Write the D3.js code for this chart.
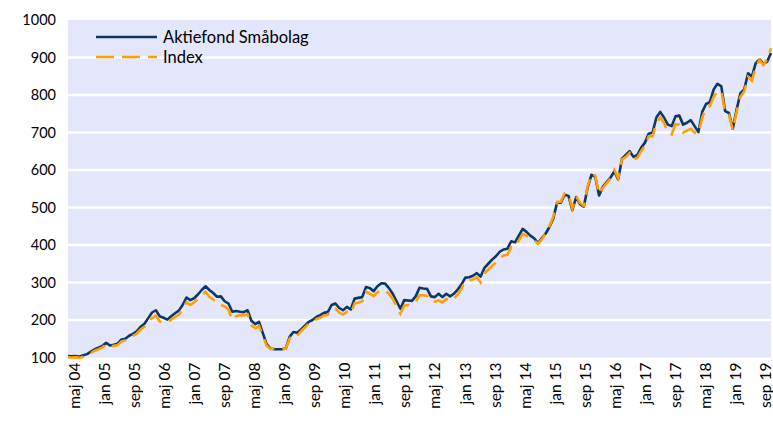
<!DOCTYPE html>
<html>
<head>
<meta charset="utf-8">
<script src="https://cdn.jsdelivr.net/npm/d3@7"></script>
<style>
  body { margin: 0; background: #fff; }
  text { font-family: Lato, "Open Sans", sans-serif; fill: #000; }
</style>
</head>
<body>
<div id="chart"></div>
<script>
// monthly values, maj 04 .. sep 19
var startYear = 2004, startMonth = 4; // 0-based month index (maj)
var monthNames = ["jan","feb","mar","apr","maj","jun","jul","aug","sep","okt","nov","dec"];

var fund = [
  104,103,104,102,106,109,116,122,126,131,139,132,134,137,148,150,158,163,170,182,
  190,205,220,226,210,206,201,210,218,225,240,260,253,258,268,280,290,280,272,262,
  263,250,244,222,224,222,221,226,198,189,195,165,135,124,122,122,122,124,155,168,
  166,175,185,195,200,208,213,219,221,240,244,232,226,235,228,257,259,261,288,285,
  277,290,298,297,285,270,250,230,253,252,251,263,286,284,283,263,261,270,261,270,
  263,270,281,295,313,314,318,325,316,339,350,361,370,382,388,390,410,407,425,443,
  435,425,418,405,418,430,448,470,513,513,534,531,493,528,509,502,553,587,582,532,
  555,568,580,596,575,630,640,650,635,640,659,673,697,700,740,755,740,721,717,743,
  745,721,726,733,717,701,755,776,781,815,830,823,757,752,710,761,805,815,858,849,
  885,895,883,889,912
];

var index = [
  101,100,101,99,102,106,112,118,122,127,135,129,131,133,143,146,153,158,164,175,
  182,195,205,212,196,194,193,201,208,214,228,247,240,247,256,266,275,262,255,244,
  240,236,228,200,210,213,212,215,186,178,184,158,131,123,124,123,122,124,150,162,
  158,170,180,190,195,202,206,212,214,228,230,220,214,222,217,244,246,250,275,270,
  264,274,279,278,270,256,236,217,238,240,241,248,266,266,264,250,249,252,247,256,
  251,258,268,284,303,305,308,314,300,325,334,344,353,365,372,374,394,395,412,429,
  425,418,413,403,415,430,450,475,515,516,538,536,497,530,512,504,556,590,585,536,
  552,565,577,600,578,628,635,645,628,632,650,665,690,690,725,740,725,700,695,722,
  721,700,705,710,700,697,740,765,770,795,810,810,752,748,706,755,795,810,848,838,
  875,893,880,895,925
];

var yTicks = [100,200,300,400,500,600,700,800,900,1000];
var seriesNames = ["Aktiefond Småbolag", "Index"];

// month labels
var months = fund.map(function(d, i) {
  var m = startMonth + i;
  var y = startYear + Math.floor(m / 12);
  return monthNames[m % 12] + " " + String(y % 100).padStart(2, "0");
});
var tickLabels = months.filter(function(d, i) { return i % 8 === 0; });

var svgWidth = 773, svgHeight = 425;
var margin = { top: 20, right: 2, bottom: 67.5, left: 68 };
var width = svgWidth - margin.left - margin.right;
var height = svgHeight - margin.top - margin.bottom;

var svg = d3.select("#chart").append("svg")
  .attr("width", svgWidth)
  .attr("height", svgHeight);

var chartGroup = svg.append("g")
  .attr("transform", `translate(${margin.left}, ${margin.top})`);

var xScale = d3.scalePoint()
  .domain(months)
  .range([0, width]);

// labels sit a little inside the line ends, as in the original
var xLabelScale = d3.scalePoint()
  .domain(months)
  .range([6, width - 6]);

var yScale = d3.scaleLinear()
  .domain([100, 1000])
  .range([height, 0]);

// plot background
chartGroup.append("rect")
  .attr("width", width)
  .attr("height", height)
  .attr("fill", "#e4e6fb");

// gridlines
chartGroup.selectAll(".grid")
  .data(yTicks.filter(function(t) { return t > 100 && t < 1000; }))
  .enter()
  .append("line")
  .attr("x1", 0)
  .attr("x2", width)
  .attr("y1", d => yScale(d))
  .attr("y2", d => yScale(d))
  .attr("stroke", "#fff")
  .attr("stroke-width", 2.5);

// y axis
var yAxis = d3.axisLeft(yScale).tickValues(yTicks).tickFormat(d3.format("d")).tickSize(0).tickPadding(12);
chartGroup.append("g")
  .call(yAxis)
  .call(g => g.select(".domain").remove())
  .selectAll("text")
  .style("font-size", "14.5px");

// x axis, every 8th month
var xAxis = d3.axisBottom(xLabelScale)
  .tickValues(tickLabels)
  .tickSize(0);
chartGroup.append("g")
  .attr("transform", `translate(0, ${height})`)
  .call(xAxis)
  .call(g => g.select(".domain").remove())
  .selectAll("text")
  .style("font-size", "15.5px")
  .attr("text-anchor", "end")
  .attr("transform", "rotate(-90)")
  .attr("x", -5)
  .attr("y", 0)
  .attr("dy", "0.35em");

var line = d3.line()
  .x(function(d, i) { return xScale(months[i]); })
  .y(function(d) { return yScale(d); });

chartGroup.append("path")
  .datum(fund)
  .attr("d", line)
  .attr("fill", "none")
  .attr("stroke", "#0b3868")
  .attr("stroke-width", 2.6)
  .attr("stroke-linejoin", "round");

chartGroup.append("path")
  .datum(index)
  .attr("d", line)
  .attr("fill", "none")
  .attr("stroke", "#ffa000")
  .attr("stroke-width", 2.6)
  .attr("stroke-dasharray", "16,8");

// legend
var legend = svg.append("g");
var legendColors = ["#0b3868", "#ffa000"];
var legendDash = [null, "18,8"];
seriesNames.forEach(function(name, i) {
  var ly = 37 + i * 20;
  legend.append("line")
    .attr("x1", 96).attr("x2", 157)
    .attr("y1", ly).attr("y2", ly)
    .attr("stroke", legendColors[i])
    .attr("stroke-width", 2.6)
    .attr("stroke-dasharray", legendDash[i]);
  legend.append("text")
    .attr("x", 163)
    .attr("y", ly)
    .attr("dy", "0.35em")
    .style("font-size", "16.5px")
    .text(name);
});
</script>
</body>
</html>
